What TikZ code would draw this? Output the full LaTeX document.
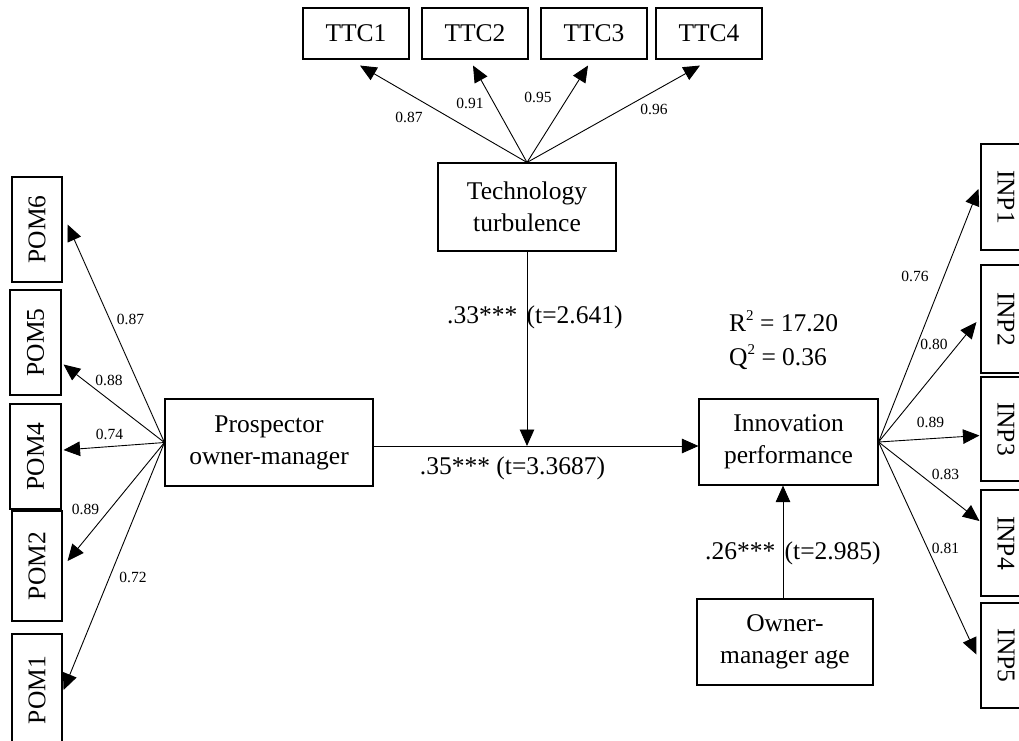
\documentclass[tikz,border=0pt]{standalone}
\usepackage{fontspec}
\setmainfont{Liberation Serif}
\usetikzlibrary{arrows.meta}
\newcommand\bigfnt{\fontsize{25.5}{32}\selectfont}
\newcommand\smallfnt{\fontsize{15.5}{18}\selectfont}
\newcommand\mysup[1]{\raisebox{0.42em}{\fontsize{15}{15}\selectfont #1}}
\begin{document}
\begin{tikzpicture}[x=1pt,y=-1pt,
  box/.style={draw, line width=1.1pt, inner sep=0pt, align=center, font=\bigfnt},
  arr/.style={line width=0.9pt, -{Triangle[length=16.5pt,width=14.5pt]}},
  lab/.style={font=\smallfnt, inner sep=0pt},
  coef/.style={font=\bigfnt, inner sep=0pt}]
\useasboundingbox (0,0) rectangle (1019,740);
% indicator boxes: TTC
\node[box, minimum width=106pt, minimum height=51pt] (ttc1) at (356,33.5) {TTC1};
\node[box, minimum width=106pt, minimum height=51pt] (ttc2) at (475,33.5) {TTC2};
\node[box, minimum width=106pt, minimum height=51pt] (ttc3) at (594,33.5) {TTC3};
\node[box, minimum width=106pt, minimum height=51pt] (ttc4) at (709,33.5) {TTC4};
% constructs
\node[box, minimum width=178pt, minimum height=88pt] (tt) at (527,207) {Technology\\turbulence};
\node[box, minimum width=208pt, minimum height=87pt] (pro) at (269,442.5) {Prospector\\owner-manager};
\node[box, minimum width=179pt, minimum height=86pt] (inn) at (788.5,442) {Innovation\\performance};
\node[box, minimum width=176pt, minimum height=86pt] (own) at (785,642) {Owner-\\manager age};
% POM boxes
\node[box, rotate=90, minimum width=105pt, minimum height=50pt] (pom6) at (37,229.5) {POM6};
\node[box, rotate=90, minimum width=105pt, minimum height=51pt] (pom5) at (35.5,342.5) {POM5};
\node[box, rotate=90, minimum width=105pt, minimum height=51pt] (pom4) at (35.5,456.5) {POM4};
\node[box, rotate=90, minimum width=110pt, minimum height=50pt] (pom2) at (37,566) {POM2};
\node[box, rotate=90, minimum width=112pt, minimum height=50pt] (pom1) at (37,690) {POM1};
% INP boxes
\node[box, rotate=-90, minimum width=106pt, minimum height=50pt] (inp1) at (1006,197) {INP1};
\node[box, rotate=-90, minimum width=108pt, minimum height=50pt] (inp2) at (1006,319) {INP2};
\node[box, rotate=-90, minimum width=104pt, minimum height=50pt] (inp3) at (1006,429) {INP3};
\node[box, rotate=-90, minimum width=106pt, minimum height=50pt] (inp4) at (1006,543) {INP4};
\node[box, rotate=-90, minimum width=105pt, minimum height=50pt] (inp5) at (1006,655.5) {INP5};
% TTC arrows
\draw[arr] (tt.north) -- ([xshift=4pt,yshift=-6pt]ttc1.south);
\draw[arr] (tt.north) -- ([xshift=-2pt,yshift=-6pt]ttc2.south);
\draw[arr] (tt.north) -- ([xshift=-6pt,yshift=-6pt]ttc3.south);
\draw[arr] (tt.north) -- ([xshift=-9pt,yshift=-6pt]ttc4.south);
% POM arrows (rotated nodes: .south is the right side)
\draw[arr] (pro.west) -- ([xshift=5pt,yshift=5pt]pom6.south);
\draw[arr] (pro.west) -- ([xshift=2pt,yshift=-22pt]pom5.south);
\draw[arr] (pro.west) -- ([xshift=2pt,yshift=6.5pt]pom4.south);
\draw[arr] (pro.west) -- ([xshift=5pt,yshift=5pt]pom2.south);
\draw[arr] (pro.west) -- ([xshift=1pt,yshift=0pt]pom1.south);
% INP arrows (rotated nodes: .south is the left side)
\draw[arr] (inn.east) -- ([xshift=-2pt,yshift=8pt]inp1.south);
\draw[arr] (inn.east) -- ([xshift=-4pt,yshift=-3pt]inp2.south);
\draw[arr] (inn.east) -- ([xshift=-1pt,yshift=-6.5pt]inp3.south);
\draw[arr] (inn.east) -- ([xshift=-1pt,yshift=22pt]inp4.south);
\draw[arr] (inn.east) -- ([xshift=-4pt,yshift=1pt]inp5.south);
% structural paths
\coordinate (pa) at ([yshift=-3.5pt]pro.east);
\draw[arr] (pa) -- (pa -| inn.west);
\draw[arr] (tt.south) -- (tt.south |- pa);
\coordinate (ownt) at ([xshift=-2pt]own.north);
\draw[arr] (ownt) -- (ownt |- inn.south);
% loadings
\node[lab] at (409,117) {0.87};
\node[lab] at (470,103) {0.91};
\node[lab] at (538,97.5) {0.95};
\node[lab] at (654,109) {0.96};
\node[lab] at (130.5,319) {0.87};
\node[lab] at (109,380.5) {0.88};
\node[lab] at (109.5,434) {0.74};
\node[lab] at (85.5,509) {0.89};
\node[lab] at (133,577.5) {0.72};
\node[lab] at (915,276) {0.76};
\node[lab] at (934,344) {0.80};
\node[lab] at (930.5,422) {0.89};
\node[lab] at (945.5,474.5) {0.83};
\node[lab] at (945.5,548) {0.81};
% coefficients
\node[coef, anchor=west] at (447,317) {.33*** \hspace{3pt}(t=2.641)};
\node[coef] at (512.5,468) {.35*** (t=3.3687)};
\node[coef, anchor=west] at (705,553) {.26*** \hspace{3pt}(t=2.985)};
\node[coef, anchor=west] at (729,321) {R\mysup{2} = 17.20};
\node[coef, anchor=west] at (729,357) {Q\mysup{2} = 0.36};
\end{tikzpicture}
\end{document}
